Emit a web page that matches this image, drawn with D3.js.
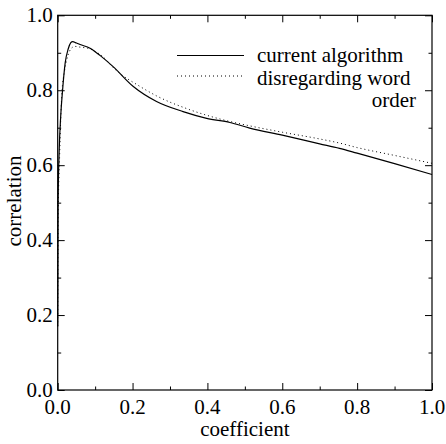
<!DOCTYPE html>
<html>
<head>
<meta charset="utf-8">
<script src="https://cdn.jsdelivr.net/npm/d3@7"></script>
<style>
@font-face { font-family: "ChartSerif"; src: local("Liberation Serif"), local("LiberationSerif"), local("Liberation Serif Regular"), local("LiberationSerif-Regular"); }
</style>
</head>
<body style="margin:0">
<svg id="chart" width="446" height="444"></svg>
<script>
// Data
const seriesNames = ["current algorithm", "disregarding word order"];
const currentX = [0, 0.001, 0.004, 0.008, 0.013, 0.02, 0.028, 0.035, 0.04, 0.05, 0.06, 0.0865, 0.1, 0.113, 0.148, 0.202, 0.264, 0.335, 0.398, 0.46, 0.513, 0.6, 0.7, 0.753, 0.8, 0.9, 1.0];
const currentY = [0.17, 0.5, 0.64, 0.73, 0.80, 0.873, 0.91, 0.927, 0.930, 0.926, 0.922, 0.912, 0.903, 0.893, 0.863, 0.810, 0.770, 0.743, 0.725, 0.714, 0.699, 0.680, 0.657, 0.645, 0.632, 0.604, 0.575];
const orderX = [0, 0.001, 0.005, 0.011, 0.018, 0.024, 0.032, 0.04, 0.046, 0.06, 0.08, 0.1, 0.12, 0.153, 0.22, 0.264, 0.353, 0.442, 0.513, 0.6, 0.7, 0.753, 0.8, 0.9, 1.0];
const orderY = [0.17, 0.45, 0.62, 0.79, 0.85, 0.881, 0.905, 0.915, 0.917, 0.915, 0.912, 0.904, 0.89, 0.856, 0.81, 0.785, 0.748, 0.721, 0.705, 0.688, 0.670, 0.659, 0.647, 0.626, 0.605];
const majorTicks = [0, 0.2, 0.4, 0.6, 0.8, 1.0];
const minorTicks = [0.1, 0.3, 0.5, 0.7, 0.9];
const xTitle = "coefficient";
const yTitle = "correlation";

const svg = d3.select("#chart");
const L = 57.7, R = 432, T = 15.3, B = 390;
const x = d3.scaleLinear().domain([0, 1]).range([L, R]);
const y = d3.scaleLinear().domain([0, 1]).range([B, T]);
const fmt = d3.format(".1f");
const FS = 21;
const FF = '"Liberation Serif", "ChartSerif", "Times New Roman", "DejaVu Serif"';

// Frame
svg.append("rect").attr("x", L).attr("y", T).attr("width", R - L).attr("height", B - T)
  .attr("fill", "none").attr("stroke", "#000").attr("stroke-width", 1.2);

// Tick marks (inward, all four sides)
const majLen = 7, minLen = 3.5;
function ticks(axisFn, scale, transform, vals, len) {
  const g = svg.append("g").attr("transform", transform)
    .call(axisFn(scale).tickValues(vals).tickSizeInner(-len).tickSizeOuter(0).tickFormat(""));
  g.select(".domain").remove();
  g.selectAll(".tick text").remove();
  g.selectAll(".tick line").attr("stroke", "#000").attr("stroke-width", 1);
  return g;
}
ticks(d3.axisBottom, x, `translate(0,${B})`, majorTicks, majLen);
ticks(d3.axisBottom, x, `translate(0,${B})`, minorTicks, minLen);
ticks(d3.axisTop, x, `translate(0,${T})`, majorTicks, majLen);
ticks(d3.axisTop, x, `translate(0,${T})`, minorTicks, minLen);
ticks(d3.axisLeft, y, `translate(${L},0)`, majorTicks, majLen);
ticks(d3.axisLeft, y, `translate(${L},0)`, minorTicks, minLen);
ticks(d3.axisRight, y, `translate(${R},0)`, majorTicks, majLen);
ticks(d3.axisRight, y, `translate(${R},0)`, minorTicks, minLen);

// Tick labels
svg.selectAll("text.xl").data(majorTicks).join("text").attr("class", "xl")
  .attr("x", d => x(d)).attr("y", B + 24).attr("text-anchor", "middle")
  .attr("font-size", FS).style("font-family", FF)
  .text(d => fmt(d));
svg.selectAll("text.yl").data(majorTicks).join("text").attr("class", "yl")
  .attr("x", L - 5).attr("y", d => y(d) + 6.5).attr("text-anchor", "end")
  .attr("font-size", FS).style("font-family", FF)
  .text(d => fmt(d));

// Lines
const line = d3.line().x(d => x(d[0])).y(d => y(d[1])).curve(d3.curveMonotoneX);
const currentData = currentX.map((v, i) => [v, currentY[i]]);
const orderData = orderX.map((v, i) => [v, orderY[i]]);
svg.append("path").datum(orderData).attr("d", line).attr("fill", "none")
  .attr("stroke", "#000").attr("stroke-width", 1).attr("stroke-dasharray", "1,3");
svg.append("path").datum(currentData).attr("d", line).attr("fill", "none")
  .attr("stroke", "#000").attr("stroke-width", 1.2);

// Legend
svg.append("line").attr("x1", 177).attr("x2", 244).attr("y1", 55.5).attr("y2", 55.5)
  .attr("stroke", "#000").attr("stroke-width", 1.2);
svg.append("line").attr("x1", 177).attr("x2", 242).attr("y1", 76).attr("y2", 76)
  .attr("stroke", "#000").attr("stroke-width", 1).attr("stroke-dasharray", "1,3");
const words = seriesNames[1].split(" ");
const labels = [
  {s: seriesNames[0], x: 257, y: 62, a: "start"},
  {s: words.slice(0, 2).join(" "), x: 257, y: 85, a: "start"},
  {s: words[2], x: 416, y: 107, a: "end"},
  {s: xTitle, x: (L + R) / 2, y: 436, a: "middle"}
];
svg.selectAll("text.lg").data(labels).join("text").attr("class", "lg")
  .attr("x", d => d.x).attr("y", d => d.y).attr("text-anchor", d => d.a)
  .attr("font-size", FS).style("font-family", FF)
  .text(d => d.s);
svg.append("text").attr("transform", "translate(21,201) rotate(-90)").attr("text-anchor", "middle")
  .attr("font-size", FS).style("font-family", FF).text(yTitle);
</script>
</body>
</html>
